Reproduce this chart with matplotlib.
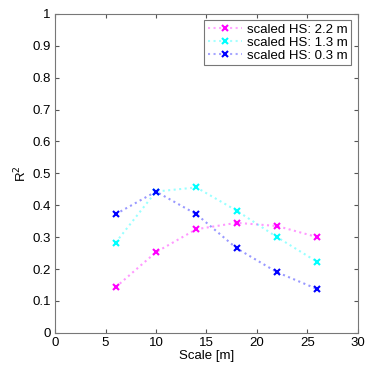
import matplotlib
matplotlib.use('Agg')
import matplotlib.pyplot as plt
from matplotlib.lines import Line2D

plt.rcParams['font.family'] = ['Liberation Sans', 'DejaVu Sans']

scale = [6, 10, 14, 18, 22, 26]
r2_22 = [0.143, 0.253, 0.325, 0.345, 0.335, 0.300]
r2_13 = [0.283, 0.443, 0.456, 0.383, 0.300, 0.222]
r2_03 = [0.372, 0.443, 0.372, 0.265, 0.190, 0.137]
labels = ['scaled HS: 2.2 m', 'scaled HS: 1.3 m', 'scaled HS: 0.3 m']
colors = ['magenta', 'cyan', 'blue']

fig = plt.figure(figsize=(3.72, 3.65), dpi=100)
ax = fig.add_axes([0.148, 0.088, 0.814, 0.874])

handles = []
for y, lab, c in zip([r2_22, r2_13, r2_03], labels, colors):
    ax.plot(scale, y, linestyle=':', color=c, alpha=0.4, linewidth=1.5)
    ax.plot(scale, y, linestyle='none', marker='x', color=c,
            markersize=4, markeredgewidth=1.5)
    handles.append((Line2D([], [], linestyle=':', color=c, alpha=0.35, linewidth=1.5),
                    Line2D([], [], linestyle='none', marker='x', color=c,
                           markersize=4, markeredgewidth=1.5)))

ax.set_xlim(0, 30)
ax.set_ylim(0, 1)
ax.set_xticks([0, 5, 10, 15, 20, 25, 30])
ax.set_yticks([i / 10 for i in range(11)])
ax.set_yticklabels(['0', '0.1', '0.2', '0.3', '0.4', '0.5', '0.6', '0.7', '0.8', '0.9', '1'])
ax.tick_params(direction='in', top=True, right=True, labelsize=9.5, length=3,
               colors='#555555', labelcolor='black', pad=3)
for s in ax.spines.values():
    s.set_color('#777777')
ax.set_xlabel('Scale [m]', fontsize=9.5, labelpad=1)
ax.set_ylabel('R$^2$', fontsize=9.5, labelpad=2)
leg = ax.legend(handles, labels, loc='upper right', fontsize=9.5, fancybox=False,
                framealpha=1, edgecolor='#777777', handlelength=2.6,
                borderaxespad=0.5, labelspacing=0.05, borderpad=0.25,
                handletextpad=0.4)
leg.get_frame().set_linewidth(0.8)

plt.savefig('out.png', dpi=100)
plt.close()
